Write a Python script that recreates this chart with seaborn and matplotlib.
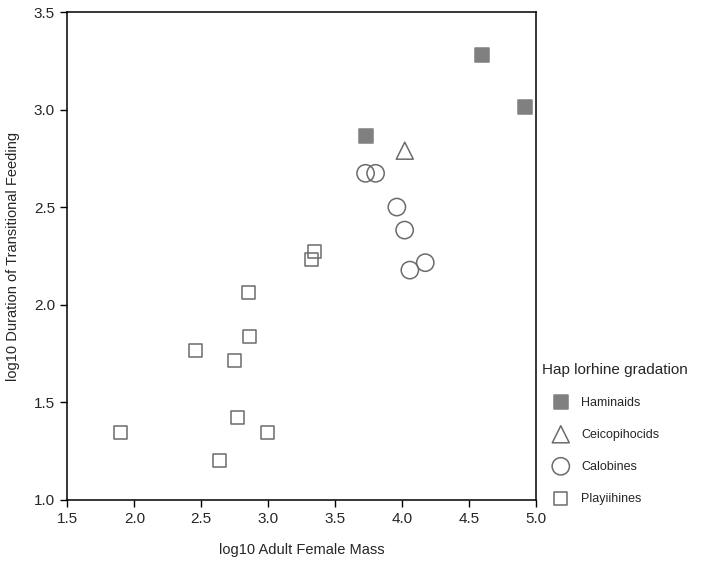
import seaborn as sns
import matplotlib.pyplot as plt
import pandas as pd

# values
haminaids_x = [3.73, 4.60, 4.92]
haminaids_y = [2.865, 3.28, 3.013]

ceicopihocids_x = [4.02]
ceicopihocids_y = [2.79]

calobines_x = [3.727, 3.802, 3.961, 4.019, 4.058, 4.173]
calobines_y = [2.674, 2.674, 2.501, 2.383, 2.178, 2.216]

playiihines_x = [3.346, 3.323, 2.85, 2.86, 2.454, 2.75, 2.768, 1.90, 2.992, 2.636]
playiihines_y = [2.274, 2.233, 2.062, 1.84, 1.768, 1.714, 1.422, 1.345, 1.345, 1.201]

groups = ["Haminaids", "Ceicopihocids", "Calobines", "Playiihines"]

df = pd.concat([
    pd.DataFrame({"mass": haminaids_x, "feeding": haminaids_y, "group": "Haminaids"}),
    pd.DataFrame({"mass": ceicopihocids_x, "feeding": ceicopihocids_y, "group": "Ceicopihocids"}),
    pd.DataFrame({"mass": calobines_x, "feeding": calobines_y, "group": "Calobines"}),
    pd.DataFrame({"mass": playiihines_x, "feeding": playiihines_y, "group": "Playiihines"}),
])

sns.set_style("ticks")
plt.rcParams['font.family'] = ['Liberation Sans', 'DejaVu Sans']

fig = plt.figure(figsize=(7.02, 5.64), dpi=100)
ax = fig.add_axes([0.096, 0.1135, 0.6675, 0.865])

edge = "#6b6b6b"
styles = {
    "Haminaids": dict(marker="s", s=88, facecolor="#808080", edgecolor="#808080"),
    "Ceicopihocids": dict(marker="^", s=150, facecolor="none", edgecolor=edge),
    "Calobines": dict(marker="o", s=155, facecolor="none", edgecolor=edge),
    "Playiihines": dict(marker="s", s=88, facecolor="none", edgecolor=edge),
}

for g in groups:
    sub = df[df["group"] == g]
    sns.scatterplot(data=sub, x="mass", y="feeding", ax=ax, label=g,
                    linewidth=1.1, **styles[g])

ax.set_xlim(1.5, 5.0)
ax.set_ylim(1.0, 3.5)
ax.set_xticks([1.5, 2.0, 2.5, 3.0, 3.5, 4.0, 4.5, 5.0])
ax.set_yticks([1.0, 1.5, 2.0, 2.5, 3.0, 3.5])
ax.tick_params(direction="out", length=5, width=1, labelsize=11, color="black", pad=4)
for sp in ax.spines.values():
    sp.set_color("black")
    sp.set_linewidth(1.1)

ax.set_xlabel("log10 Adult Female Mass", fontsize=10.5, labelpad=12)
ax.set_ylabel("log10 Duration of Transitional Feeding", fontsize=10.5, labelpad=10)

h, l = ax.get_legend_handles_labels()
leg = ax.legend(h, l, title="Hap lorhine gradation", loc="upper left",
                bbox_to_anchor=(0.765, 0.366), bbox_transform=fig.transFigure,
                frameon=False, fontsize=9, title_fontsize=11, alignment="left",
                labelspacing=1.6, handlelength=3.0, handletextpad=0.15,
                borderaxespad=0)

fig.savefig("out.png", dpi=100)
